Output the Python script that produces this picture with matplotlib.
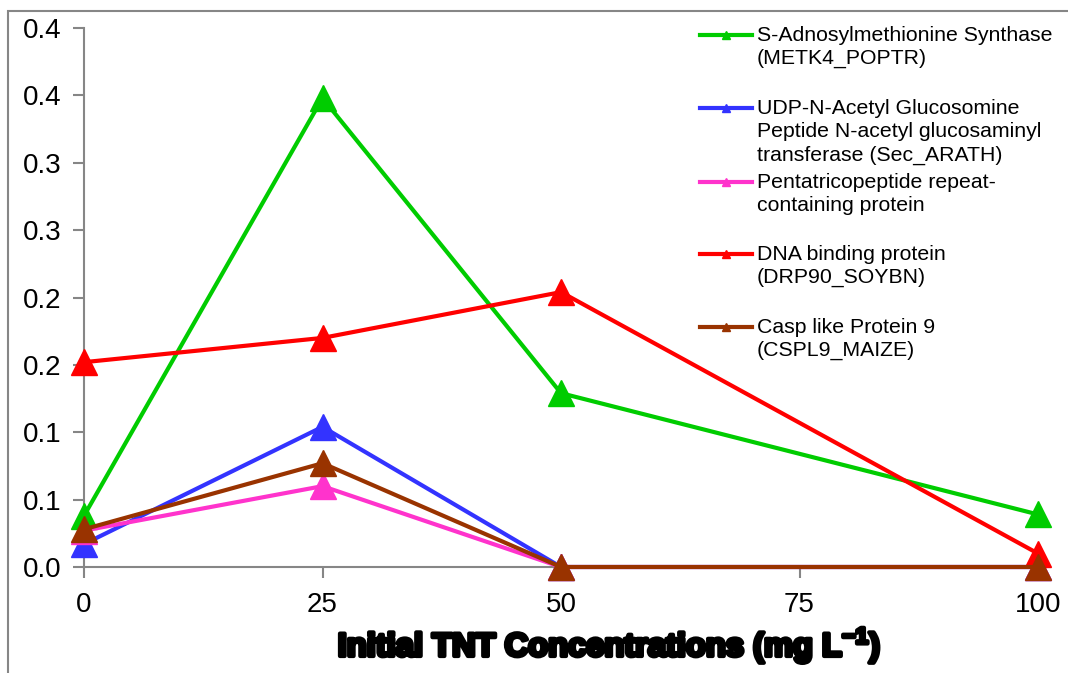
import numpy as np
import matplotlib
matplotlib.use("Agg")
from matplotlib import pyplot as plt
from matplotlib.lines import Line2D
from matplotlib.patches import Rectangle
import matplotlib.patheffects as pe

plt.rcParams['font.family'] = ['Liberation Sans', 'DejaVu Sans']
plt.rcParams['mathtext.fontset'] = 'custom'
plt.rcParams['mathtext.rm'] = 'Liberation Sans'
plt.rcParams['mathtext.bf'] = 'Liberation Sans:bold'

# data
conc = [0, 25, 50, 100]
metk4 = [0.038, 0.348, 0.129, 0.039]
sec_arath = [0.017, 0.104, 0.0, 0.0]
pentatrico = [0.027, 0.060, 0.0, 0.0]
drp90 = [0.152, 0.170, 0.204, 0.010]
cspl9 = [0.028, 0.077, 0.0, 0.0]

names = ["S-Adnosylmethionine Synthase\n(METK4_POPTR)",
         "UDP-N-Acetyl Glucosomine\nPeptide N-acetyl glucosaminyl\ntransferase (Sec_ARATH)",
         "Pentatricopeptide repeat-\ncontaining protein",
         "DNA binding protein\n(DRP90_SOYBN)",
         "Casp like Protein 9\n(CSPL9_MAIZE)"]
series = [metk4, sec_arath, pentatrico, drp90, cspl9]
colors = ['#00CC00', '#3333FF', '#FF33CC', '#FF0000', '#993300']

xticks = [0, 25, 50, 75, 100]
yticks = [0, 0.05, 0.1, 0.15, 0.2, 0.25, 0.3, 0.35, 0.4]
ytick_labels = ['0.0', '0.1', '0.1', '0.2', '0.2', '0.3', '0.3', '0.4', '0.4']

fig = plt.figure(figsize=(10.68, 6.73), dpi=100)
ax = fig.add_axes([84/1068, 1-567/673, (1038-84)/1068, (567-28)/673])

for vals, c in zip(series, colors):
    ax.plot(conc, vals, color=c, lw=3, marker='^', markersize=19, clip_on=False, zorder=3)

ax.set_xlim(0, 100)
ax.set_ylim(0, 0.4)
ax.set_xticks(xticks)
ax.set_yticks(yticks)
ax.set_yticklabels(ytick_labels)
ax.tick_params(axis='both', direction='out', length=8, width=1.5, color='#868686', labelsize=20)
ax.tick_params(axis='y', pad=8)
ax.tick_params(axis='x', pad=10)
for s in ['top', 'right']:
    ax.spines[s].set_visible(False)
for s in ['left', 'bottom']:
    ax.spines[s].set_color('#868686')
    ax.spines[s].set_linewidth(1.5)

ax.set_xlabel("Initial TNT Concentrations (mg L$^{\\mathbf{-1}}$)", fontsize=23.5, fontweight='bold',
              va='center', path_effects=[pe.withStroke(linewidth=3, foreground='black')])
ax.xaxis.set_label_coords((609-84)/(1038-84), (567-645)/(567-28))

# legend, handle at the first line of each entry
leg_y = [35, 108, 182, 254, 327]
for name, c, yp in zip(names, colors, leg_y):
    yf = 1 - yp/673
    fig.add_artist(Line2D([700/1068, 752/1068], [yf, yf], color=c, lw=3,
                          transform=fig.transFigure))
    fig.add_artist(Line2D([726/1068], [yf], color=c, marker='^', markersize=6,
                          transform=fig.transFigure))
    fig.text(757/1068, yf + 9/673, name, fontsize=15.3, va='top', ha='left', linespacing=1.28)

# outer frame
fig.add_artist(Rectangle((8/1068, -0.05), 1.0, 1 - 11/673 + 0.05, fill=False,
                         edgecolor='#868686', lw=1.5, transform=fig.transFigure))

fig.savefig('out.png', dpi=100)
